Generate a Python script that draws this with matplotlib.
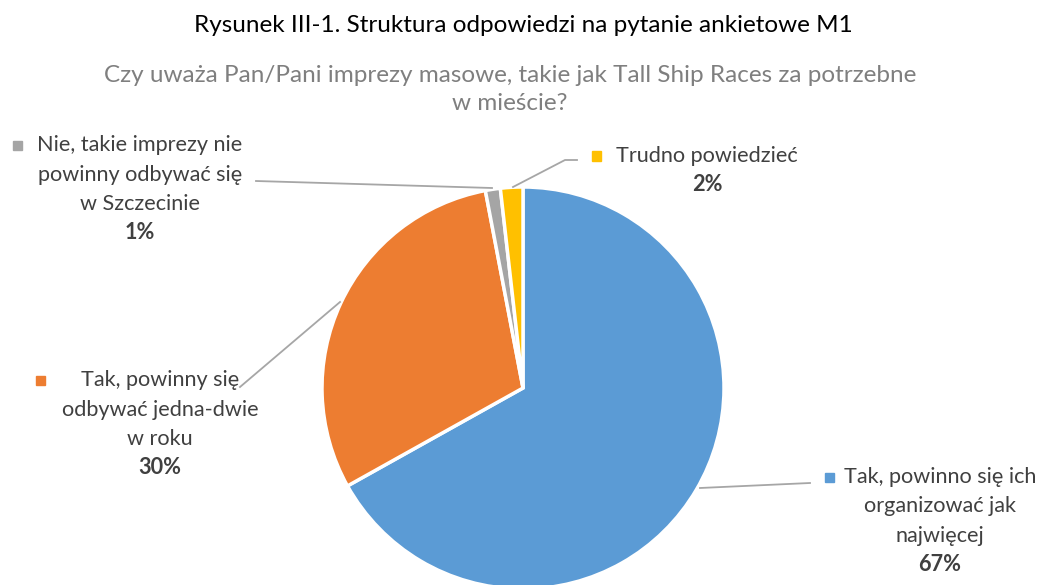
import matplotlib.pyplot as plt
from matplotlib.patches import Rectangle

plt.rcParams["font.family"] = ["Lato", "DejaVu Sans"]

# data
labels = [
    ["Tak, powinno się ich", "organizować jak", "najwięcej"],
    ["Tak, powinny się", "odbywać jedna-dwie", "w roku"],
    ["Nie, takie imprezy nie", "powinny odbywać się", "w Szczecinie"],
    ["Trudno powiedzieć"],
]
values = [66.9, 30.1, 1.2, 1.8]
colors = ["#5B9BD5", "#ED7D31", "#A5A5A5", "#FFC000"]

W, H = 1048, 585
fig = plt.figure(figsize=(W / 100, H / 100), dpi=100)


def fx(x):
    return x / W


def fy(y):
    return 1 - y / H


# pie: centre (523, 388), radius ~200 px
cx, cy, r = 523, 388, 201
ax = fig.add_axes([fx(cx - r), fy(cy + r), 2 * r / W, 2 * r / H])
ax.pie(values, colors=colors, startangle=90, counterclock=False,
       wedgeprops=dict(edgecolor="white", linewidth=2.5), radius=1.0)
ax.set_xlim(-1, 1)
ax.set_ylim(-1, 1)
ax.set_aspect("equal")
ax.axis("off")
for p in ax.patches:
    p.set_clip_on(False)

# titles
fig.text(fx(523), fy(25), "Rysunek III-1. Struktura odpowiedzi na pytanie ankietowe M1",
         ha="center", va="center", fontsize=17.5, color="black")
sub = ["Czy uważa Pan/Pani imprezy masowe, takie jak Tall Ship Races za potrzebne",
       "w mieście?"]
for k, s in enumerate(sub):
    fig.text(fx(510), fy(75 + 29 * k), s, ha="center", va="center",
             fontsize=17.5, color="#7F7F7F")

txt = "#404040"
fs = 15.6


def label(i, x, y, pct, sq_x, step=29.5):
    lines = labels[i]
    for k, s in enumerate(lines):
        fig.text(fx(x), fy(y + step * k), s, ha="center", va="center",
                 fontsize=fs, color=txt)
    fig.text(fx(x), fy(y + step * len(lines) - 1), pct, ha="center", va="center",
             fontsize=fs, color=txt, fontweight="bold")
    fig.patches.append(Rectangle((fx(sq_x - 4.5), fy(y + 4.5)), 9 / W, 9 / H,
                                 transform=fig.transFigure, color=colors[i]))


pcts = [f"{round(v)}%" for v in values]
label(0, 940, 477, pcts[0], 829)
label(1, 160, 380, pcts[1], 40)
label(2, 140, 145, pcts[2], 17)
label(3, 707, 156, pcts[3], 596)

# leader lines
lc = "#A6A6A6"
for xs, ys in [
    ([810, 700], [483, 488]),
    ([240, 340], [387, 302]),
    ([256, 492], [181, 188]),
    ([577, 565, 513], [160, 160, 187]),
]:
    fig.add_artist(plt.Line2D([fx(x) for x in xs], [fy(y) for y in ys],
                              color=lc, linewidth=1.3))

fig.savefig("out.png", dpi=100)
